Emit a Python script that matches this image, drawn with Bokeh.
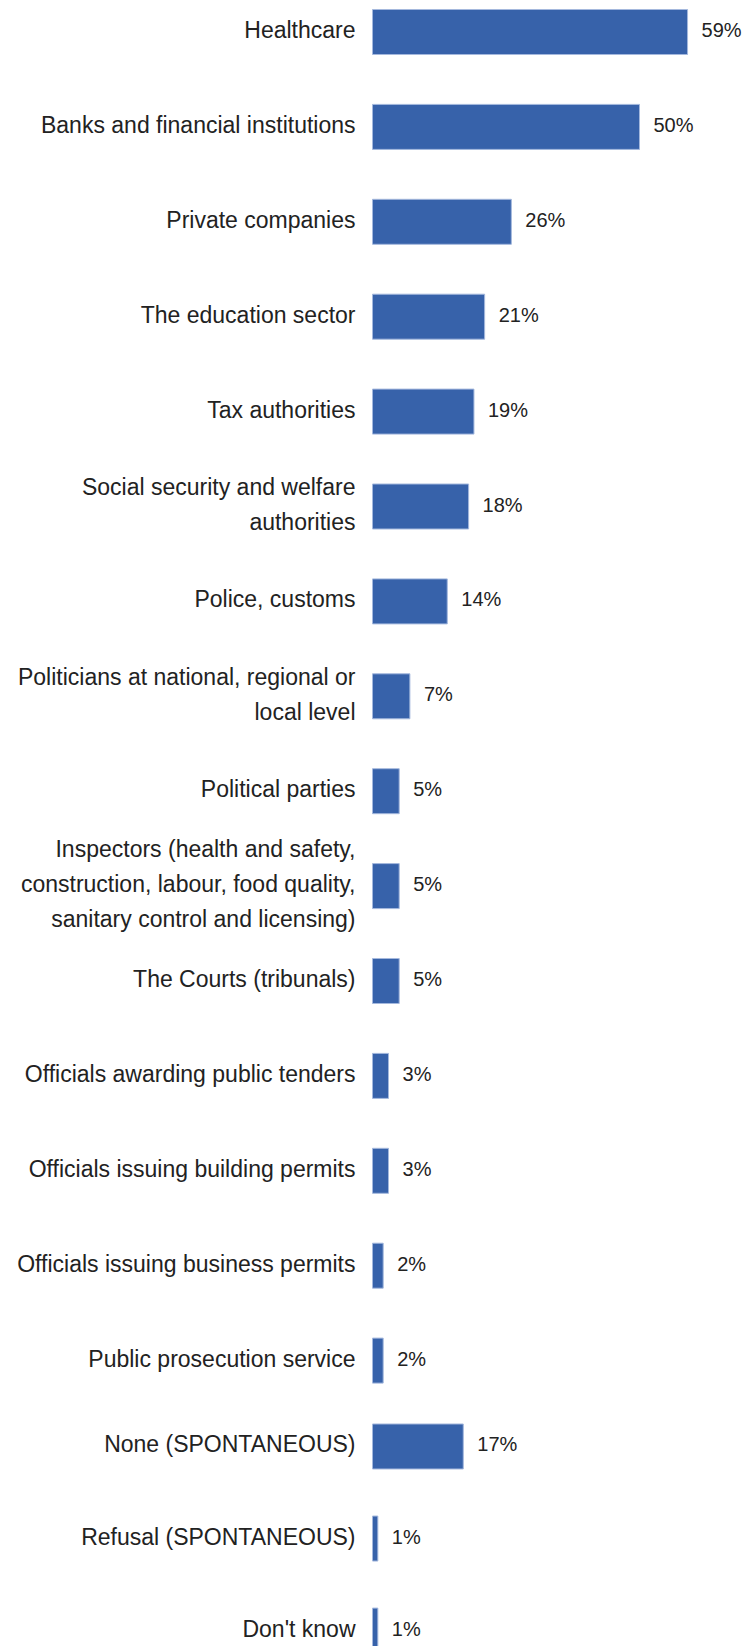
from bokeh.plotting import figure
from bokeh.models import Range1d, ColumnDataSource
from bokeh.core.properties import value
from bokeh.embed import file_html
from bokeh.resources import INLINE

categories = [
    "Healthcare",
    "Banks and financial institutions",
    "Private companies",
    "The education sector",
    "Tax authorities",
    "Social security and welfare\nauthorities",
    "Police, customs",
    "Politicians at national, regional or\nlocal level",
    "Political parties",
    "Inspectors (health and safety,\nconstruction, labour, food quality,\nsanitary control and licensing)",
    "The Courts (tribunals)",
    "Officials awarding public tenders",
    "Officials issuing building permits",
    "Officials issuing business permits",
    "Public prosecution service",
    "None (SPONTANEOUS)",
    "Refusal (SPONTANEOUS)",
    "Don't know",
]
values = [59, 50, 26, 21, 19, 18, 14, 7, 5, 5, 5, 3, 3, 2, 2, 17, 1, 1]
value_labels = [f"{v}%" for v in values]

W, H = 743, 1646
px_per_pct = 5.34
x0_px = 372.0
row_px = 94.9
row0_px = 31.5
n_main = 15            # items listed before the spontaneous answers
block_start = 14.905   # the spontaneous block sits slightly closer
block_step = 0.97

rows = [float(i) if i < n_main else block_start + (i - n_main) * block_step
        for i in range(len(categories))]
src = ColumnDataSource(dict(y=rows, v=values, cat=categories, lab=value_labels, zero=[0] * len(rows)))

ystart = -row0_px / row_px
p = figure(
    width=W, height=H, output_backend="svg", toolbar_location=None,
    x_range=Range1d(-x0_px / px_per_pct, (W - x0_px) / px_per_pct),
    y_range=Range1d(ystart + H / row_px, ystart),
    min_border=0, outline_line_color=None,
)
p.axis.visible = False
p.grid.visible = False
p.background_fill_color = "white"
p.border_fill_color = "white"

p.hbar(y="y", left=0, right="v", height=45 / row_px, source=src,
       fill_color="#3762AA", line_color="#A4B8DD", line_width=1)

FONT = value("Liberation Sans")
p.text(x="zero", y="y", text="cat", source=src, x_offset=-17, y_offset=-2,
       text_align="right", text_baseline="middle", text_font=FONT,
       text_font_size="23px", text_color="#222222", text_line_height=1.36)
p.text(x="v", y="y", text="lab", source=src, x_offset=14, y_offset=-2,
       text_align="left", text_baseline="middle", text_font=FONT,
       text_font_size="20px", text_color="#222222")

open("out.html", "w").write(file_html(p, INLINE))
